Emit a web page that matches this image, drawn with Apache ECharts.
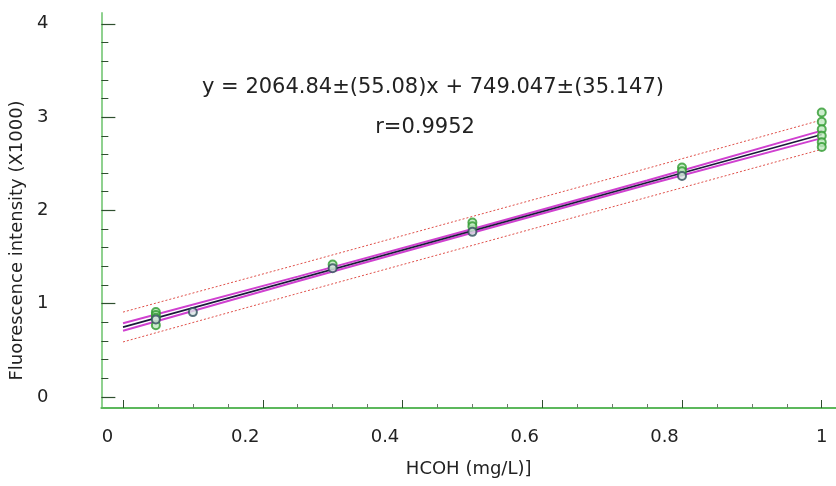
<!DOCTYPE html>
<html><head><meta charset="utf-8">
<script src="https://cdn.jsdelivr.net/npm/echarts@6/dist/echarts.min.js"></script>
<style>html,body{margin:0;padding:0;background:#fff}#c{width:836px;height:486px}</style>
</head><body><div id="c"></div>
<script>
// ---- data ----
const xTickLabels = [0, 0.2, 0.4, 0.6, 0.8, 1];
const xMinorTicks = [0.05, 0.1, 0.15, 0.25, 0.3, 0.35, 0.45, 0.5, 0.55, 0.65, 0.7, 0.75, 0.85, 0.9, 0.95];
const yTickLabels = [0, 1, 2, 3, 4];
const yMinorTicks = [0.2, 0.4, 0.6, 0.8, 1.2, 1.4, 1.6, 1.8, 2.2, 2.4, 2.6, 2.8, 3.2, 3.4, 3.6, 3.8];

const greenX = [0.047, 0.047, 0.047, 0.047, 0.3, 0.5, 0.5, 0.8, 0.8, 1, 1, 1, 1, 1, 1];
const greenY = [0.91, 0.88, 0.85, 0.77, 1.42, 1.87, 1.83, 2.46, 2.42, 3.05, 2.95, 2.87, 2.80, 2.73, 2.68];
const darkX = [0.047, 0.1, 0.3, 0.5, 0.8];
const darkY = [0.83, 0.91, 1.38, 1.77, 2.37];

const fitX = [0, 1];
const fitY = [0.749, 2.814];
const bandX = [0, 0.25, 0.5, 0.75, 1];
const confUpper = [0.79, 1.29, 1.80, 2.32, 2.855];
const confLower = [0.71, 1.24, 1.76, 2.275, 2.775];
const predUpper = [0.91, 1.42, 1.935, 2.45, 2.97];
const predLower = [0.59, 1.11, 1.625, 2.14, 2.655];

const xAxisTitle = 'HCOH (mg/L)]';
const yAxisTitle = 'Fluorescence intensity (X1000)';
const equationText = 'y = 2064.84±(55.08)x + 749.047±(35.147)';
const rText = 'r=0.9952';

// ---- chart ----
const FONT = 'DejaVu Sans';
const zip = (xs, ys) => xs.map((x, i) => [x, ys[i]]);
const chart = echarts.init(document.getElementById('c'), null, {renderer: 'canvas'});

const xMin = -0.031, xMax = 1.0204, yMin = -0.118, yMax = 4.116;

const line = (xs, ys, color, width, type, z) => ({
  type: 'line', data: zip(xs, ys), showSymbol: false, symbol: 'none',
  lineStyle: {color: color, width: width, type: type}, z: z, silent: true
});

chart.setOption({
  animation: false,
  backgroundColor: '#ffffff',
  grid: {left: 100, right: 0, top: 13, bottom: 78, containLabel: false},
  xAxis: [{
    type: 'value', min: xMin, max: xMax, position: 'bottom',
    name: xAxisTitle, nameLocation: 'middle', nameGap: 52,
    nameTextStyle: {fontFamily: FONT, fontSize: 18, color: '#222'},
    axisLine: {onZero: false, lineStyle: {color: '#5cb85c', width: 2}},
    axisTick: {show: true, inside: true, length: 8, customValues: xTickLabels, lineStyle: {color: '#2f4f2f', width: 1}},
    axisLabel: {
      customValues: xTickLabels, margin: 20,
      fontFamily: FONT, fontSize: 18, color: '#222',
      formatter: v => v === 1 ? '{e|1}' : (v === 0 ? '{z|0}' : '{m|' + v + '}'),
      rich: {
        e: {fontFamily: FONT, fontSize: 18, color: '#222'},
        z: {fontFamily: FONT, fontSize: 18, color: '#222', padding: [0, 31, 0, 0]},
        m: {fontFamily: FONT, fontSize: 18, color: '#222', padding: [0, 35, 0, 0]}
      }
    },
    splitLine: {show: false}
  }, {
    type: 'value', min: xMin, max: xMax, position: 'bottom', gridIndex: 0,
    axisLine: {show: false, onZero: false},
    axisTick: {show: true, inside: true, length: 4, customValues: xMinorTicks, lineStyle: {color: '#6a7a6a', width: 1}},
    axisLabel: {show: false},
    splitLine: {show: false}
  }],
  yAxis: [{
    type: 'value', min: yMin, max: yMax, position: 'left',
    name: yAxisTitle, nameLocation: 'middle', nameGap: 73,
    nameTextStyle: {fontFamily: FONT, fontSize: 18, color: '#222', padding: [0, 60, 0, 0]},
    axisLine: {onZero: false, lineStyle: {color: '#8fd18f', width: 2}},
    axisTick: {show: true, inside: true, length: 14, customValues: yTickLabels, lineStyle: {color: '#2f4f2f', width: 1.2}},
    axisLabel: {customValues: yTickLabels, margin: 53, fontFamily: FONT, fontSize: 18, color: '#222'},
    splitLine: {show: false}
  }, {
    type: 'value', min: yMin, max: yMax, position: 'left', gridIndex: 0,
    axisLine: {show: false, onZero: false},
    axisTick: {show: true, inside: true, length: 7, customValues: yMinorTicks, lineStyle: {color: '#2f4f2f', width: 1}},
    axisLabel: {show: false},
    splitLine: {show: false}
  }],
  graphic: [
    {type: 'text', x: 433, y: 88, style: {text: equationText, fontFamily: FONT, fontSize: 21, fill: '#222', align: 'center', verticalAlign: 'middle'}},
    {type: 'text', x: 425, y: 128, style: {text: rText, fontFamily: FONT, fontSize: 21, fill: '#222', align: 'center', verticalAlign: 'middle'}}
  ],
  series: [
    line(bandX, predUpper, '#e0504a', 1, [2, 2], 2),
    line(bandX, predLower, '#e0504a', 1, [2, 2], 2),
    line(bandX, confUpper, '#d040d0', 2, 'solid', 3),
    line(bandX, confLower, '#d040d0', 2, 'solid', 3),
    line(fitX, fitY, '#1a1a3a', 1.6, 'solid', 4),
    {
      type: 'scatter', data: zip(greenX, greenY), symbol: 'circle', symbolSize: 8,
      itemStyle: {color: '#bfe8bf', borderColor: '#2e9a2e', borderWidth: 2}, z: 5
    },
    {
      type: 'scatter', data: zip(darkX, darkY), symbol: 'circle', symbolSize: 8,
      itemStyle: {color: '#d8e4e4', borderColor: '#2f4f5a', borderWidth: 2}, z: 5
    }
  ]
});
</script>
</body></html>
